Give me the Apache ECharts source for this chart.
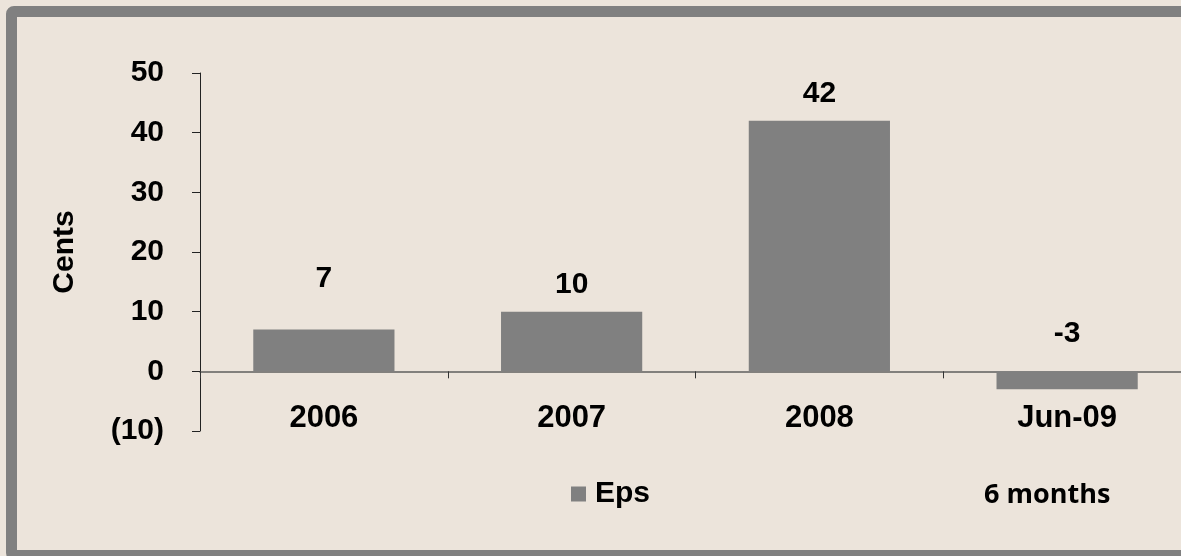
<!DOCTYPE html>
<html>
<head>
<meta charset="utf-8">
<title>Eps</title>
<script src="https://cdn.jsdelivr.net/npm/echarts@6/dist/echarts.min.js"></script>
<style>
  html, body {
    margin: 0;
    padding: 0;
    width: 1181px;
    height: 556px;
    overflow: hidden;
    background: #ece4db;
  }
  .frame {
    position: absolute;
    left: 6px;
    top: 6px;
    width: 1220px;
    height: 555px;
    box-sizing: border-box;
    border: 11px solid #808080;
    border-radius: 8px;
    background: #ece4db;
  }
  /* the plot runs past the right edge of the picture, so the chart is wider than the window */
  #chart {
    position: absolute;
    left: 0;
    top: 0;
    width: 1200px;
    height: 556px;
  }
</style>
</head>
<body>
<div class="frame"></div>
<div id="chart"></div>
<script>
// data
const categories = ['2006', '2007', '2008', 'Jun-09']
const epsValues = [7, 10, 42, -3]
const yTicks = [-10, 0, 10, 20, 30, 40, 50]

const seriesName = 'Eps'
const yName = 'Cents'
const note = '6 months'

const font = '"Liberation Sans", Arial, sans-serif'

// the data labels in the source are nudged by hand in a couple of places
const labelNudge = [-24, 0, 0, -11]

let myChart = echarts.init(document.getElementById('chart'), null, { renderer: 'canvas' })
let option = {
  animation: false,
  backgroundColor: 'transparent',
  grid: {
    left: 200,
    top: 73,
    bottom: 125,
    right: 9,
    containLabel: false
  },
  legend: {
    data: [seriesName],
    left: 566,
    top: 474,
    itemWidth: 15,
    itemHeight: 15,
    itemGap: 5,
    icon: 'rect',
    textStyle: {
      fontFamily: font,
      fontWeight: 'bold',
      fontSize: 30,
      color: '#000',
      padding: [0, 0, 0, 4]
    }
  },
  xAxis: {
    type: 'category',
    data: categories,
    axisLine: {
      onZero: true,
      lineStyle: { color: '#5f5f5f', width: 1.5 }
    },
    axisTick: {
      show: true,
      length: 7,
      lineStyle: { color: '#333' }
    },
    axisLabel: {
      margin: -28,
      fontFamily: font,
      fontWeight: 'bold',
      fontSize: 31,
      color: '#000'
    },
    splitLine: { show: false }
  },
  yAxis: {
    type: 'value',
    min: yTicks[0],
    max: yTicks[yTicks.length - 1],
    interval: 10,
    name: yName,
    nameLocation: 'middle',
    nameRotate: 90,
    nameGap: 120,
    nameTextStyle: {
      fontFamily: font,
      fontWeight: 'bold',
      fontSize: 30,
      color: '#000'
    },
    axisLine: {
      show: true,
      lineStyle: { color: '#222', width: 1 }
    },
    axisTick: {
      show: true,
      length: 8,
      lineStyle: { color: '#222' }
    },
    axisLabel: {
      margin: 36,
      fontFamily: font,
      fontWeight: 'bold',
      fontSize: 30,
      color: '#000',
      formatter: function (v) {
        return v < 0 ? '(' + Math.abs(v) + ')' : String(v)
      }
    },
    splitLine: { show: false }
  },
  series: [
    {
      name: seriesName,
      type: 'bar',
      barWidth: '57%',
      itemStyle: { color: '#808080' },
      label: {
        show: true,
        position: 'top',
        distance: 12,
        fontFamily: font,
        fontWeight: 'bold',
        fontSize: 30,
        color: '#000'
      },
      data: epsValues.map((v, i) => ({
        value: v,
        label: { offset: [0, labelNudge[i]] }
      }))
    }
  ],
  graphic: [
    {
      type: 'text',
      left: 984,
      top: 482,
      style: {
        text: note,
        fontFamily: '"Open Sans", sans-serif',
        fontWeight: 'bold',
        fontSize: 27,
        fill: '#000'
      }
    }
  ]
}
myChart.setOption(option, true)
window.addEventListener('resize', () => {
  myChart.resize()
})
</script>
</body>
</html>
